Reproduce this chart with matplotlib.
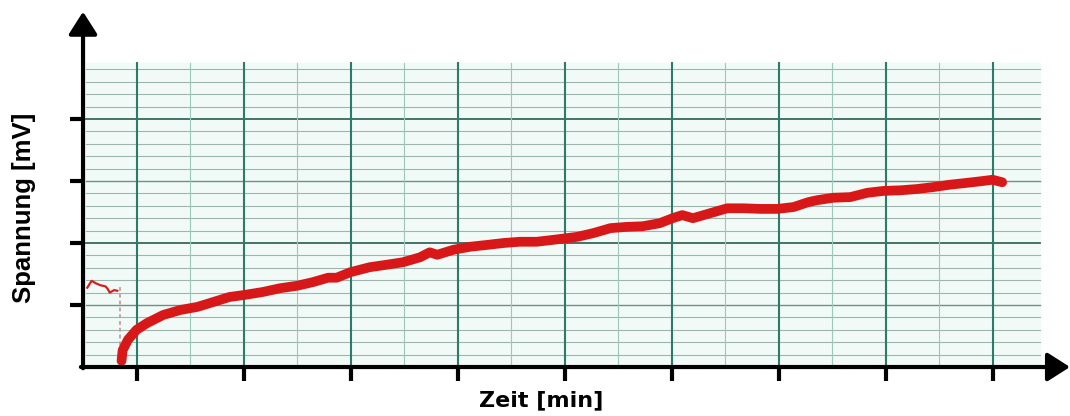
import numpy as np
import matplotlib
matplotlib.use("Agg")
import matplotlib.pyplot as plt

plt.rcParams.update({
    "font.family": ["Liberation Sans", "DejaVu Sans"],
})

# Chart-recorder trace.
# x: time in major grid divisions (ticks at 1..9), y: voltage in tick units
pre_t = [0.54, 0.58, 0.62, 0.66, 0.71, 0.73, 0.75, 0.79, 0.82]
pre_v = [1.28, 1.39, 1.35, 1.32, 1.30, 1.26, 1.20, 1.24, 1.23]

pen_drop_t = [0.846, 0.846]
pen_drop_v = [1.29, 0.0]

trace_t = [0.86, 0.87, 0.92, 1.00, 1.10, 1.25, 1.41, 1.57, 1.72, 1.87,
           2.00, 2.18, 2.34, 2.50, 2.65, 2.79, 2.87, 3.00, 3.18, 3.34,
           3.49, 3.65, 3.74, 3.81, 3.96, 4.12, 4.28, 4.43, 4.58, 4.74,
           4.89, 5.12, 5.27, 5.43, 5.58, 5.73, 5.89, 6.01, 6.10, 6.20,
           6.36, 6.52, 6.67, 6.83, 6.99, 7.14, 7.28, 7.36, 7.51, 7.67,
           7.83, 7.98, 8.14, 8.29, 8.44, 8.60, 8.76, 8.91, 9.00, 9.09]
trace_v = [0.10, 0.27, 0.44, 0.60, 0.71, 0.84, 0.92, 0.97, 1.05, 1.13,
           1.16, 1.21, 1.27, 1.31, 1.37, 1.44, 1.44, 1.53, 1.61, 1.65,
           1.69, 1.77, 1.85, 1.81, 1.89, 1.94, 1.97, 2.00, 2.02, 2.02,
           2.05, 2.10, 2.16, 2.24, 2.26, 2.27, 2.32, 2.40, 2.45, 2.40,
           2.48, 2.56, 2.56, 2.55, 2.55, 2.58, 2.66, 2.69, 2.73, 2.74,
           2.81, 2.84, 2.85, 2.87, 2.90, 2.94, 2.97, 3.00, 3.02, 2.98]

x_ticks = [1, 2, 3, 4, 5, 6, 7, 8, 9]
y_ticks = [1, 2, 3, 4]

x_label = "Zeit [min]"
y_label = "Spannung [mV]"

# ---------------------------------------------------------------------------
fig = plt.figure(figsize=(10.7, 4.16), dpi=100)
ax = fig.add_axes([0, 0, 1, 1])
ax.set_xlim(-0.276, 9.724)
ax.set_ylim(-0.79, 5.919)
ax.axis("off")

x0, y0 = 0.5, 0.0          # axis origin
paper_l, paper_r = 0.53, 9.44
paper_b, paper_t = 0.02, 4.9

# recorder paper
ax.fill_between([paper_l, paper_r], paper_b, paper_t, color="#f1faf6", zorder=0)

# horizontal rulings
for k in range(1, 25):
    v = k * 0.2
    if k % 10 == 0:
        ax.plot([paper_l, paper_r], [v, v], color="#3a665c", lw=1.3, zorder=1)
    elif k % 5 == 0:
        ax.plot([paper_l, paper_r], [v, v], color="#6f8f87", lw=1.0, zorder=1)
    else:
        ax.plot([paper_l, paper_r], [v, v], color="#9db5ae", lw=0.8, zorder=1)

# vertical rulings
for t in x_ticks:
    ax.plot([t, t], [paper_b, paper_t], color="#2c7a68", lw=1.5, zorder=1)
for t in np.array(x_ticks) + 0.5:
    if t < paper_r:
        ax.plot([t, t], [paper_b, paper_t], color="#9cc7bb", lw=0.8, zorder=1)

# pen trace
ax.plot(pre_t, pre_v, color="#d42020", lw=1.6, zorder=3)
ax.plot(pen_drop_t, pen_drop_v, color="#c9a4a4", lw=1.4, ls=(0, (2, 1.5)), zorder=3)
ax.plot(trace_t, trace_v, color="#d81818", lw=7, solid_capstyle="round",
        solid_joinstyle="round", zorder=4)

# axes with arrow heads
arrow = dict(arrowstyle="-|>,head_length=1.1,head_width=0.7", lw=3,
             color="black", mutation_scale=12.5, shrinkA=0, shrinkB=0)
ax.annotate("", xy=(9.724, y0), xytext=(x0 - 0.02, y0), arrowprops=arrow, zorder=5)
ax.annotate("", xy=(x0, 5.73), xytext=(x0, y0 - 0.02), arrowprops=arrow, zorder=5)

# ticks
for t in x_ticks:
    ax.plot([t, t], [y0, -0.22], color="black", lw=3, solid_capstyle="butt", zorder=5)
for v in y_ticks:
    ax.plot([x0, x0 - 0.12], [v, v], color="black", lw=3, solid_capstyle="butt", zorder=5)

ax.text(4.785, -0.64, x_label, ha="center", va="baseline", fontsize=16,
        fontweight="bold", family=["DejaVu Sans"])
ax.text(-0.056, 2.57, y_label, ha="center", va="center", fontsize=18.5,
        fontweight="bold", rotation=90)

fig.savefig("out.png", dpi=100)
